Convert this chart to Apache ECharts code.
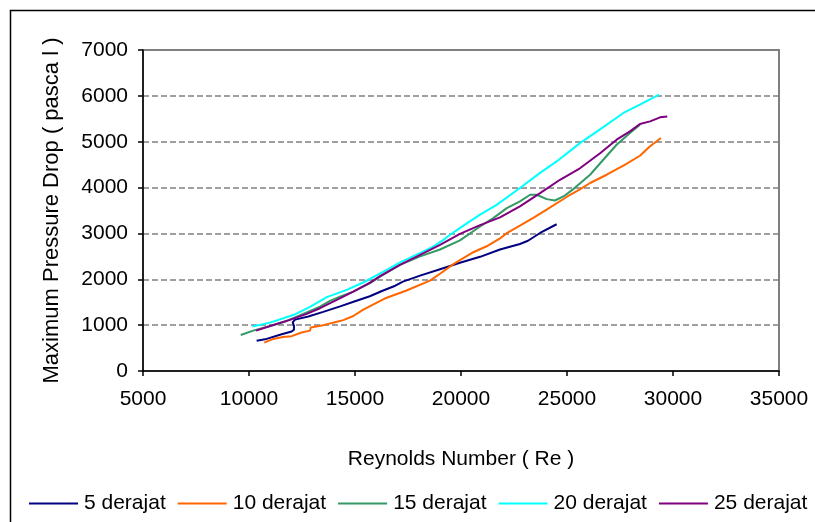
<!DOCTYPE html>
<html>
<head>
<meta charset="utf-8">
<script src="https://cdn.jsdelivr.net/npm/echarts@6/dist/echarts.min.js"></script>
<style>
html,body{margin:0;padding:0;background:#fff;}
#chart{width:815px;height:522px;}
</style>
</head>
<body>
<div id="chart"></div>
<script>
// Reynolds number (x) and maximum pressure drop (y) per series
const re5  = [10360,10760,11460,12010,12120,12120,12060,12170,12800,13500,14300,15000,15700,16300,16900,17260,18070,19010,19950,20900,21840,22780,23160,23730,24510];
const dp5  = [660,690,790,860,900,990,1060,1120,1190,1290,1410,1520,1630,1750,1860,1950,2080,2220,2360,2490,2650,2770,2840,3010,3200];

const re10 = [10720,11150,11600,12010,12480,12880,12910,13500,14100,14450,14920,15390,16400,17400,18540,19010,19640,20580,21210,21840,22160,22780,23410,24040,25000,25610,26090,26870,27660,28440,28920,29430];
const dp10 = [620,700,740,760,840,880,950,1000,1070,1110,1200,1340,1580,1750,1970,2120,2330,2590,2720,2890,3007,3170,3340,3520,3800,3960,4100,4280,4480,4694,4900,5080];

const re15 = [9610,10200,10990,11780,12560,13350,13820,14290,14920,15240,15710,16180,17120,18070,19010,19950,20900,21520,22160,22780,23260,23570,24040,24430,24830,25300,26090,26710,27340,27970,28440];
const dp15 = [786,880,983,1092,1245,1404,1528,1622,1731,1806,1915,2059,2314,2500,2650,2850,3151,3334,3552,3700,3843,3843,3748,3718,3806,3967,4280,4607,4934,5190,5371];

const re20 = [10160,10990,12090,12880,13670,14610,15390,16300,17200,18060,18690,19170,19700,20270,20900,21680,22780,23730,24510,25610,26560,27660,28440,29340];
const dp20 = [970,1055,1220,1400,1610,1770,1930,2155,2386,2570,2714,2860,3041,3220,3410,3624,3990,4320,4570,4970,5270,5627,5808,6026];

const re25 = [10330,11150,11930,12720,13350,14140,14920,15710,16180,17120,18070,19010,19950,20900,21840,22780,23730,24670,25610,26560,27340,27970,28440,28920,29390,29730];
const dp25 = [880,1004,1114,1245,1369,1550,1731,1928,2070,2314,2533,2750,2990,3180,3350,3590,3880,4170,4420,4750,5044,5225,5386,5443,5531,5552];

const seriesNames = ['5 derajat','10 derajat','15 derajat','20 derajat','25 derajat'];
const seriesColors = ['#000080','#FF6600','#339966','#00FFFF','#800080'];
const xTicks = [5000,10000,15000,20000,25000,30000,35000];
const yTicks = [0,1000,2000,3000,4000,5000,6000,7000];

function pairs(xs, ys){ return xs.map((v,i)=>[v, ys[i]]); }
const allData = [pairs(re5,dp5), pairs(re10,dp10), pairs(re15,dp15), pairs(re20,dp20), pairs(re25,dp25)];

const FONT = 'Liberation Sans, Arial, sans-serif';
const chart = echarts.init(document.getElementById('chart'), null, {renderer:'canvas'});
chart.setOption({
  animation:false,
  backgroundColor:'#fff',
  textStyle:{fontFamily:FONT,color:'#000'},
  grid:{left:143,right:36,top:50,bottom:151,show:true,borderColor:'#808080',borderWidth:2,backgroundColor:'#fff'},
  xAxis:{
    type:'value', min:xTicks[0], max:xTicks[xTicks.length-1], interval:5000,
    name:'Reynolds Number ( Re )', nameLocation:'middle', nameGap:78,
    nameTextStyle:{fontSize:21,fontFamily:FONT,color:'#000'},
    axisLine:{onZero:false,lineStyle:{color:'#000',width:1.5}},
    axisTick:{show:true,length:5,lineStyle:{color:'#000',width:1.5}},
    axisLabel:{fontSize:21,fontFamily:FONT,color:'#000',margin:18,formatter:v=>String(v)},
    splitLine:{show:false}
  },
  yAxis:{
    type:'value', min:yTicks[0], max:yTicks[yTicks.length-1], interval:1000,
    name:'Maximum Pressure Drop ( pasca l )', nameLocation:'middle', nameGap:80,
    nameTextStyle:{fontSize:22,fontFamily:FONT,color:'#000'},
    axisLine:{show:true,lineStyle:{color:'#000',width:1.5}},
    axisTick:{show:true,length:5,lineStyle:{color:'#000',width:1.5}},
    axisLabel:{fontSize:21,fontFamily:FONT,color:'#000',margin:15,formatter:v=>String(v)},
    splitLine:{show:true,lineStyle:{color:'#808080',width:1.5,type:[6,3]}}
  },
  legend:{
    left:24, top:488, itemWidth:49, itemHeight:2, itemGap:12, icon:'rect',
    textStyle:{fontSize:21,fontFamily:FONT,color:'#000',padding:[0,0,0,1]},
    data:seriesNames
  },
  graphic:[
    {type:'polyline', silent:true, z:100, shape:{points:[[10.5,522],[10.5,10.5],[815,10.5]]}, style:{stroke:'#000',lineWidth:1.5,fill:null}}
  ],
  series: allData.map((d,i)=>({
    name:seriesNames[i], type:'line', data:d, symbol:'none', showSymbol:false,
    lineStyle:{width:2,color:seriesColors[i]}, itemStyle:{color:seriesColors[i]},
    clip:false
  }))
});
</script>
</body>
</html>
